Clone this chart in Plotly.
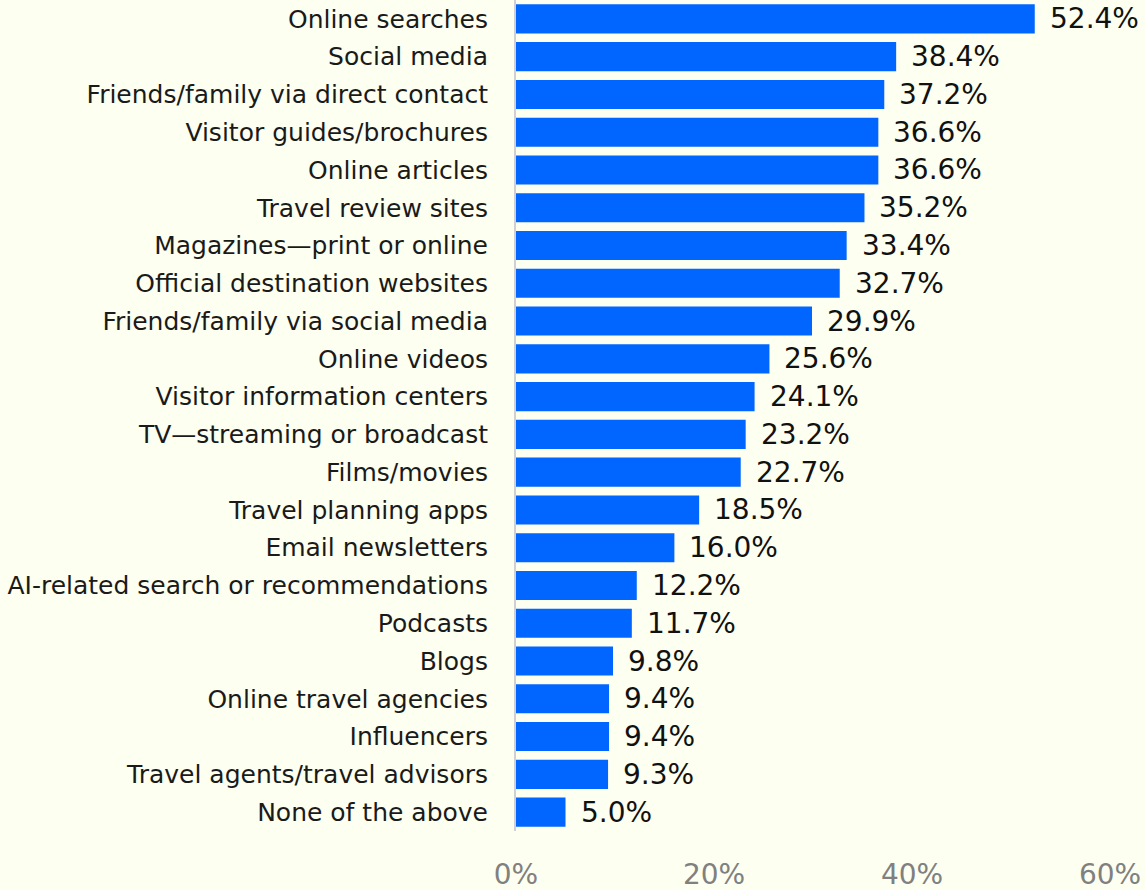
import plotly.graph_objects as go

categories = [
    "Online searches", "Social media", "Friends/family via direct contact",
    "Visitor guides/brochures", "Online articles", "Travel review sites",
    "Magazines—print or online", "Official destination websites",
    "Friends/family via social media", "Online videos",
    "Visitor information centers", "TV—streaming or broadcast", "Films/movies",
    "Travel planning apps", "Email newsletters",
    "AI-related search or recommendations", "Podcasts", "Blogs",
    "Online travel agencies", "Influencers", "Travel agents/travel advisors",
    "None of the above",
]
values = [52.4, 38.4, 37.2, 36.6, 36.6, 35.2, 33.4, 32.7, 29.9, 25.6, 24.1,
          23.2, 22.7, 18.5, 16.0, 12.2, 11.7, 9.8, 9.4, 9.4, 9.3, 5.0]
tick_vals = [0, 20, 40, 60]
tick_text = ["0%", "20%", "40%", "60%"]

BG = "#FDFFF0"
FONT = "DejaVu Sans, Arial, sans-serif"

fig = go.Figure()
fig.add_trace(go.Bar(
    x=values, y=categories, orientation="h",
    marker=dict(color="#0066FF", line=dict(width=0)),
    hoverinfo="x+y",
))
for c, v in zip(categories, values):
    fig.add_annotation(x=v, y=c, text=f"{v:.1f}%", showarrow=False,
                       xanchor="left", xshift=13,
                       font=dict(size=28, color="#111111", family=FONT))

fig.update_layout(
    width=1145, height=890,
    paper_bgcolor=BG, plot_bgcolor=BG,
    margin=dict(l=516, r=35, t=0, b=59),
    bargap=0.23,
    showlegend=False,
    font=dict(family=FONT),
)
fig.update_xaxes(range=[0, 60], tickvals=tick_vals, ticktext=tick_text,
                 showgrid=False, zeroline=False, showline=False,
                 ticks="outside", ticklen=18, tickcolor=BG,
                 tickfont=dict(size=28, color="#808080", family=FONT))
fig.update_yaxes(categoryorder="array", categoryarray=categories[::-1],
                 showgrid=False, zeroline=False,
                 showline=True, linecolor="#D0D0D0", linewidth=2,
                 ticks="outside", ticklen=21, tickcolor=BG,
                 tickfont=dict(size=25, color="#1a1a1a", family=FONT))

fig.write_html("out.html", config={"displayModeBar": False},
               post_script="document.body.style.margin='0px';document.body.style.background='%s';" % BG)
